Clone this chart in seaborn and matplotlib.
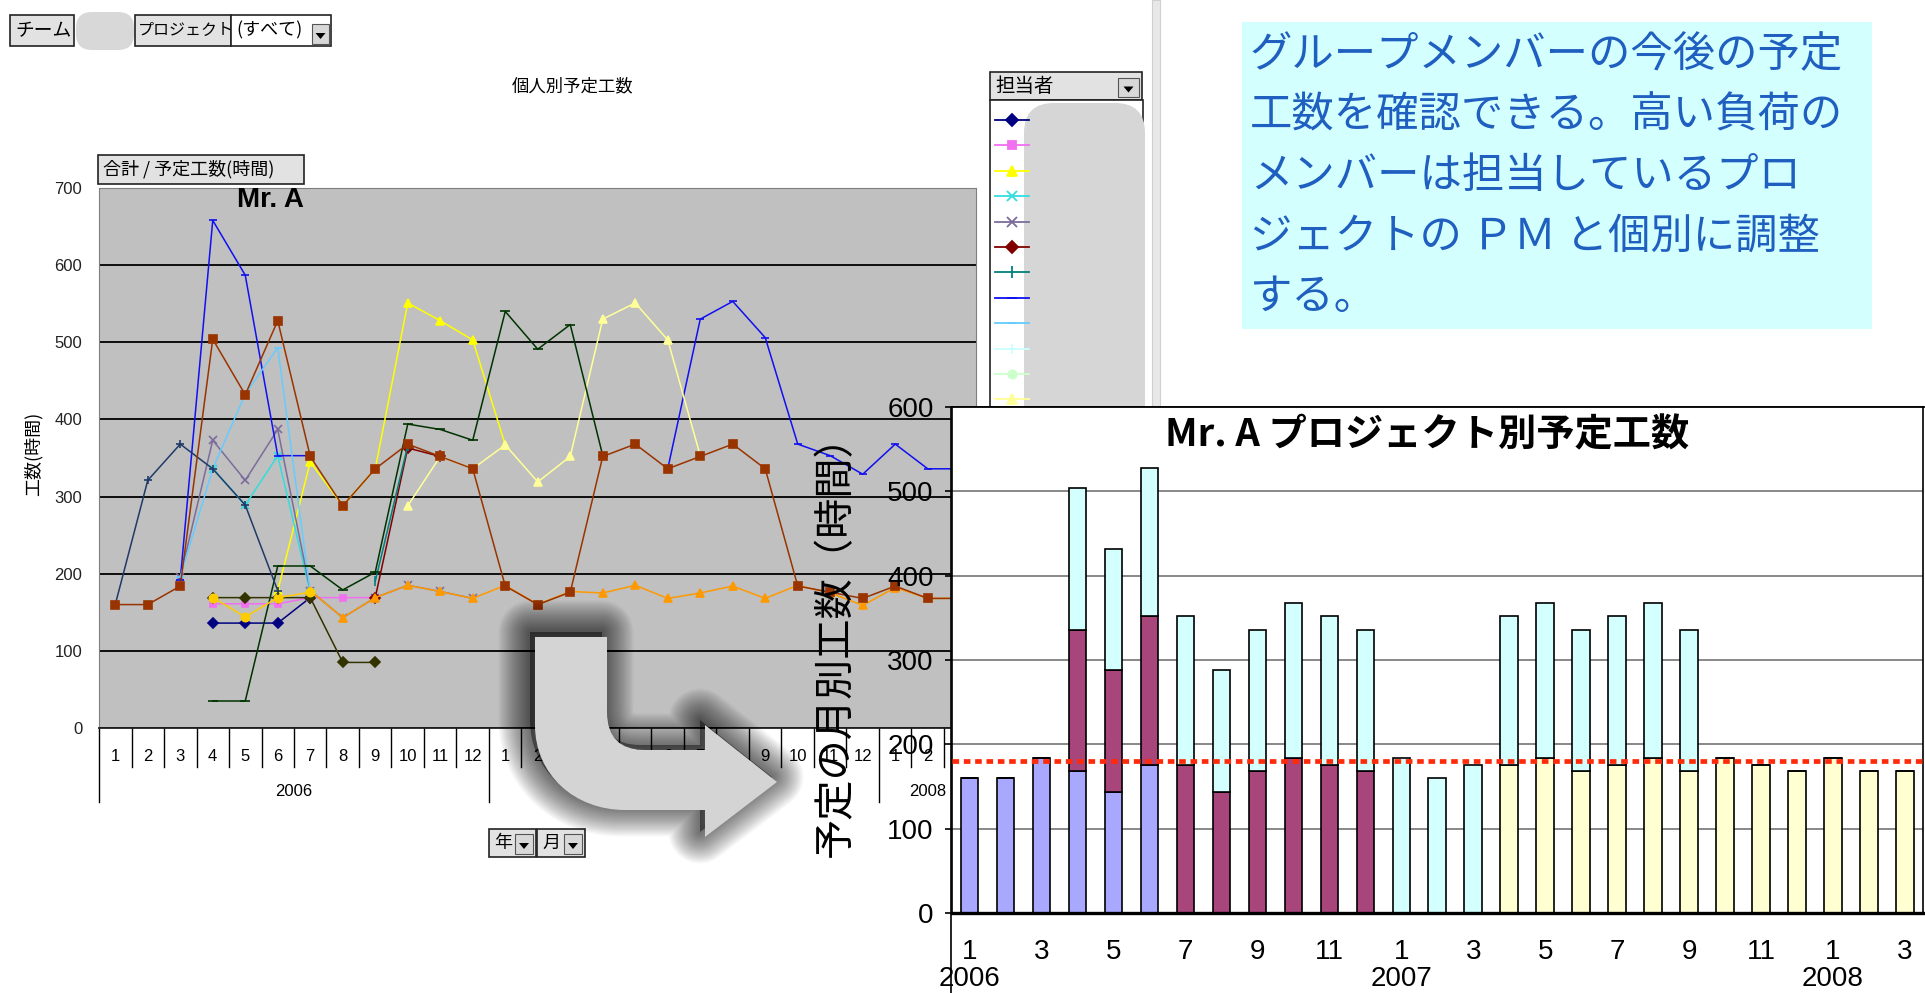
import numpy as np
import pandas as pd
import matplotlib
matplotlib.use("Agg")
import matplotlib.pyplot as plt
import seaborn as sns
from matplotlib.patches import Rectangle, FancyBboxPatch, PathPatch, Polygon
from matplotlib.path import Path
from matplotlib.transforms import Affine2D, blended_transform_factory

plt.rcParams['font.family'] = ['Liberation Sans', 'Noto Sans CJK JP', 'DejaVu Sans']
JP = ['Noto Sans CJK JP', 'DejaVu Sans']

N = None

# ---- calendar: 2006/1 .. 2008/3 ----
year_of_month = [2006] * 12 + [2007] * 12 + [2008] * 3
month_labels = [1, 2, 3, 4, 5, 6, 7, 8, 9, 10, 11, 12,
                1, 2, 3, 4, 5, 6, 7, 8, 9, 10, 11, 12,
                1, 2, 3]

# ---- Mr. A: planned hours per project (stack order bottom -> top) ----
proj_1 = [160, 160, 184, 168, 144, 176, 0, 0, 0, 0, 0, 0,
          0, 0, 0, 0, 0, 0, 0, 0, 0, 0, 0, 0, 0, 0, 0]
proj_2 = [0, 0, 0, 168, 144, 176, 176, 144, 168, 184, 176, 168,
          0, 0, 0, 0, 0, 0, 0, 0, 0, 0, 0, 0, 0, 0, 0]
proj_3 = [0, 0, 0, 0, 0, 0, 0, 0, 0, 0, 0, 0,
          0, 0, 0, 176, 184, 168, 176, 184, 168, 184, 176, 168, 184, 168, 168]
proj_4 = [0, 0, 0, 168, 144, 176, 176, 144, 168, 184, 176, 168,
          184, 160, 176, 176, 184, 168, 176, 184, 168, 0, 0, 0, 0, 0, 0]
proj_colors = ['#A8A8FF', '#A8457A', '#FFFFD2', '#D3FFFF']
limit_hours = 180

# ---- members' planned hours (None = no plan) ----
m_navy = [N, N, N, 136, 136, 136, 169, N, N, N, N, N, N, N, N, N, N, N, N, N, N, N, N, N, N, N, N]
m_magenta = [N, N, N, 161, 161, 161, 169, 169, 169, N, N, N, N, N, N, N, N, N, N, N, N, N, N, N, N, N, N]
m_yellow = [N, N, N, N, N, 178, 345, 288, 336, 551, 528, 503, 367, N, N, N, N, N, N, N, N, N, N, N, N, N, N]
m_cyan = [N, N, N, 336, 289, 353, 176, N, N, N, N, N, N, N, N, N, N, N, N, N, N, N, N, N, N, N, N]
m_purple = [N, N, 196, 373, 321, 387, 178, 143, 169, 185, 177, 168, N, N, N, N, N, N, N, N, N, N, N, N, N, N, N]
m_maroon = [N, N, N, N, N, N, N, N, 169, 363, 352, N, N, N, N, N, N, N, N, N, N, N, N, N, N, N, N]
m_teal = [N, N, N, N, N, N, N, N, 190, 366, N, N, N, N, N, N, N, N, N, N, N, N, N, N, N, N, N]
m_blue = [N, N, 192, 658, 587, 353, 353, N, N, N, N, N, N, N, N, N, N,
          336, 530, 553, 506, 368, 353, 329, 368, 336, 336]
m_sky = [N, N, 196, 336, 433, 493, 176, N, N, N, N, N, N, N, N, N, N, N, N, N, N, N, N, N, N, N, N]
m_lcyan = [N] * 27
m_lgreen = [N] * 27
m_lyellow = [N, N, N, N, N, N, N, N, N, 288, 352, 336, 367, 319, 352, 530, 551, 503, 353,
             N, N, N, N, N, N, N, N]
m_orange = [N, N, N, N, N, N, 178, 143, 169, 185, 177, 168, 185, 160, 177, 175, 185, 168,
            175, 184, 168, 185, 175, 159, 182, 168, 168]
m_dgreen = [N, N, N, 35, 35, 210, 210, 179, 202, 394, 387, 373, 540, 491, 523, 353,
            N, N, N, N, N, N, N, N, N, N, N]
m_olive = [N, N, N, 169, 169, 169, 169, 85, 85, N, N, N, N, N, N, N, N, N, N, N, N, N, N, N, N, N, N]
m_gold = [N, N, N, 169, 144, 169, 176, N, N, N, N, N, N, N, N, N, N, N, N, N, N, N, N, N, N, N, N]
m_slate = [160, 321, 368, 336, 289, 178, N, N, N, N, N, N, N, N, N, N, N, N, N, N, N, N, N, N, N, N, N]

# Mr. A's total is the sum of his projects
m_a_total = list(np.sum([proj_1, proj_2, proj_3, proj_4], axis=0))

members = [
    (m_navy, '#000080', 'D', 5),
    (m_magenta, '#F070F0', 's', 5),
    (m_yellow, '#FFFF00', '^', 6),
    (m_cyan, '#33DDDD', 'x', 6),
    (m_purple, '#7B6C9B', 'x', 6),
    (m_maroon, '#800000', 'D', 5),
    (m_teal, '#008080', '|', 7),
    (m_blue, '#1010F0', '_', 6),
    (m_sky, '#66CCFF', '_', 6),
    (m_lcyan, '#CCFFFF', '+', 6),
    (m_lgreen, '#CCFFCC', 'o', 5),
    (m_lyellow, '#FFFF99', '^', 6),
    (m_orange, '#FF9900', '^', 6),
    (m_dgreen, '#003300', '_', 7),
    (m_olive, '#333300', 'D', 5),
    (m_gold, '#FFCC00', 'o', 6),
    (m_slate, '#1F3A68', '+', 6),
    (m_a_total, '#993300', 's', 6),
]


def segments(values):
    rows, seg, prev = [], 0, False
    for i, v in enumerate(values):
        if v is None:
            if prev:
                seg += 1
            prev = False
        else:
            rows.append((i, float(v), seg))
            prev = True
    return pd.DataFrame(rows, columns=['idx', 'hours', 'seg'])


W, H = 1925, 993
fig = plt.figure(figsize=(W / 100, H / 100), dpi=100)
fig.patch.set_facecolor('white')

# =============== individual planned hours (line chart) ===============
ax_line = fig.add_axes([99 / W, (H - 728) / H, 877.5 / W, 540 / H])
ax_line.set_zorder(0)
ax_line.set_facecolor('#C0C0C0')
for z, (vals, col, mk, ms) in enumerate(members):
    df = segments(vals)
    if df.empty:
        continue
    sns.lineplot(data=df, x='idx', y='hours', units='seg', estimator=None,
                 color=col, marker=mk, markersize=ms, markeredgecolor=col,
                 markerfacecolor=col, markeredgewidth=1.2, linewidth=1.1,
                 ax=ax_line, legend=False, zorder=3 + z * 0.01)
ax_line.set_xlim(-0.5, 26.5)
ax_line.set_ylim(0, 700)
ax_line.set_yticks(range(0, 701, 100))
ax_line.yaxis.grid(True, color='black', linewidth=1.3)
ax_line.set_axisbelow(True)
ax_line.set_xticks(range(27))
ax_line.set_xticklabels([str(m) for m in month_labels])
ax_line.tick_params(axis='x', length=0, pad=15, labelsize=12)
ax_line.tick_params(axis='y', length=0, pad=12, labelsize=12, labelcolor='#222222')
ax_line.set_xlabel('')
ax_line.set_ylabel('工数(時間)', fontsize=13, family=JP)
ax_line.yaxis.set_label_coords(-0.064, 0.507)
for s in ['top', 'right', 'left']:
    ax_line.spines[s].set_color('#7F7F7F')
ax_line.spines['bottom'].set_color('#202020')
ax_line.spines['bottom'].set_linewidth(1.3)
ax_line.text(0.195, 0.978, 'Mr. A', transform=ax_line.transAxes, ha='center', va='center',
             fontsize=20, fontweight='bold')

# category cells under the time axis
tr = blended_transform_factory(ax_line.transData, ax_line.transAxes)
for k in range(28):
    b = k - 0.5
    long_line = k in (0, 12, 24, 27)
    ax_line.plot([b, b], [0, -0.137 if long_line else -0.072], color='black', lw=1,
                 transform=tr, clip_on=False)
year_pos = {2006: 5.5, 2007: 17.5, 2008: 25}
for yv, xc in year_pos.items():
    ax_line.text(xc, -0.1185, str(yv), transform=tr, ha='center', va='center', fontsize=12)

# =============== overlay (controls, notes, arrow, panel) ===============
ax_o = fig.add_axes([0, 0, 1, 1])
ax_o.set_zorder(1)
ax_o.set_xlim(0, W)
ax_o.set_ylim(H, 0)
ax_o.axis('off')


def dropdown(x0, y0, x1, y1):
    ax_o.add_patch(Rectangle((x0, y0), x1 - x0, y1 - y0, fc='#D8D8D8', ec='#555555', lw=0.8))
    cx, cy = (x0 + x1) / 2, (y0 + y1) / 2 + 2
    ax_o.add_patch(Polygon([[cx - 5, cy - 3], [cx + 5, cy - 3], [cx, cy + 3]], closed=True,
                           fc='black', ec='none'))


def button(x0, y0, x1, y1, text, fs=12.5, fc='#E2E2E2', tx=None):
    ax_o.add_patch(Rectangle((x0, y0), x1 - x0, y1 - y0, fc=fc, ec='#222222', lw=1.2))
    ax_o.text(x0 + 5 if tx is None else tx, (y0 + y1) / 2, text, ha='left', va='center',
              fontsize=fs, family=JP)


# page-field buttons
button(10, 15, 74, 46, 'チーム', fs=13.5)
ax_o.add_patch(FancyBboxPatch((76, 12), 58, 38, boxstyle='round,pad=0,rounding_size=16',
                              fc='#D8D8D8', ec='none'))
button(135, 15, 231, 46, 'プロジェクト', fs=11.5, tx=138)
button(231, 15, 331, 46, '(すべて)', fs=13, fc='white')
dropdown(312, 24, 329, 44)

ax_o.text(573, 86, '個人別予定工数', ha='center', va='center', fontsize=12.5, family=JP)
button(98, 155, 304, 184, '合計 / 予定工数(時間)', fs=13)

button(489, 829, 536, 857, '年', fs=13)
dropdown(515, 834, 533, 854)
button(537, 829, 585, 857, '月', fs=13)
dropdown(564, 834, 582, 854)

# member legend
button(990, 72, 1142, 100, '担当者', fs=14)
dropdown(1118, 78, 1139, 97)
ax_o.add_patch(Rectangle((990, 100), 153, 330, fc='white', ec='#222222', lw=1.2))
for k, (vals, col, mk, ms) in enumerate(members[:12]):
    yy = 120 + 25.4 * k
    ax_o.plot([995, 1029], [yy, yy], color=col, lw=1.3)
    ax_o.plot([1012], [yy], marker=mk, ms=ms + 1, color=col, mec=col, mew=1.3)
ax_o.add_patch(FancyBboxPatch((1024, 103), 121, 330, boxstyle='round,pad=0,rounding_size=30',
                              fc='#D6D6D6', ec='none'))

# divider
ax_o.add_patch(Rectangle((1152, 0), 8, 408, fc='#E8E8E8', ec='#D0D0D0', lw=0.8))

# note box
ax_o.add_patch(Rectangle((1242, 22), 630, 307, fc='#D4FFFF', ec='none'))
note_lines = ['グループメンバーの今後の予定',
              '工数を確認できる。高い負荷の',
              'メンバーは担当しているプロ',
              'ジェクトの ＰＭ と個別に調整',
              'する。']
for k, line in enumerate(note_lines):
    ax_o.text(1250, 55 + 60.6 * k, line, ha='left', va='center', fontsize=30.5,
              color='#1E5FC0', family=JP)

# curved arrow with soft shadow
verts = [(535, 637), (607, 637), (607, 712), (607, 750), (645, 750), (705, 750),
         (705, 725), (777, 782), (705, 837), (705, 810), (625, 810),
         (575, 810), (535, 775), (535, 725), (535, 637)]
codes = [Path.MOVETO, Path.LINETO, Path.LINETO, Path.CURVE3, Path.CURVE3, Path.LINETO,
         Path.LINETO, Path.LINETO, Path.LINETO, Path.LINETO, Path.LINETO,
         Path.CURVE4, Path.CURVE4, Path.CURVE4, Path.CLOSEPOLY]
arrow = Path(verts, codes)
shadow = arrow.transformed(Affine2D().translate(-5, -5))
ax_o.add_patch(PathPatch(shadow, fc='black', ec='none', alpha=0.4))
for lw in np.arange(2, 46, 1.5):
    ax_o.add_patch(PathPatch(shadow, fc='none', ec='black', lw=lw, alpha=0.022,
                             joinstyle='round', capstyle='round'))
ax_o.add_patch(PathPatch(arrow, fc='#D4D4D4', ec='none'))

# white panel of the project chart
ax_o.add_patch(Rectangle((951, 407), 980, 600, fc='white', ec='black', lw=1.2))

# =============== Mr. A per-project planned hours (stacked bars) ===============
ax_bar = fig.add_axes([951.6 / W, (H - 913) / H, 971.4 / W, 506 / H])
ax_bar.set_zorder(2)
ax_bar.set_facecolor('white')
cats = [f'{y}-{m:02d}' for y, m in zip(year_of_month, month_labels)]
bottom = np.zeros(len(cats))
for vals, col in zip([proj_1, proj_2, proj_3, proj_4], proj_colors):
    sns.barplot(x=cats, y=vals, order=cats, bottom=bottom.copy(), color=col, saturation=1,
                edgecolor='black', linewidth=1.2, width=0.49, errorbar=None, ax=ax_bar)
    bottom += np.array(vals, dtype=float)
ax_bar.axhline(limit_hours, color='#FF2A0A', lw=3.4, linestyle=(0, (1.4, 1.0)), zorder=5)
ax_bar.set_xlim(-0.5, len(cats) - 0.5)
ax_bar.set_ylim(0, 600)
ax_bar.set_yticks(range(0, 601, 100))
ax_bar.yaxis.grid(True, color='#7F7F7F', linewidth=1.3)
ax_bar.set_axisbelow(True)
tick_idx = list(range(0, len(cats), 2))
tick_txt = []
for i in tick_idx:
    lab = str(month_labels[i])
    if month_labels[i] == 1:
        lab += '\n' + str(year_of_month[i])
    tick_txt.append(lab)
ax_bar.set_xticks(tick_idx)
ax_bar.set_xticklabels(tick_txt, linespacing=1.05, va='top')
ax_bar.tick_params(axis='x', length=0, pad=19, labelsize=20)
ax_bar.tick_params(axis='y', length=5, width=1.2, pad=8, labelsize=20, direction='out')
ax_bar.set_xlabel('')
ax_bar.set_ylabel('予定の月別工数（時間）', fontsize=29, family=JP, va='center')
ax_bar.yaxis.set_label_coords(-0.12, 0.549)
for s in ['top', 'right', 'left']:
    ax_bar.spines[s].set_color('black')
    ax_bar.spines[s].set_linewidth(1.2)
ax_bar.spines['bottom'].set_linewidth(2.4)
ax_bar.text(0.49, 0.945, 'Mr. A プロジェクト別予定工数', transform=ax_bar.transAxes,
            ha='center', va='center', fontsize=27.5, fontweight='bold', family=JP)

fig.savefig('out.png', dpi=100)
